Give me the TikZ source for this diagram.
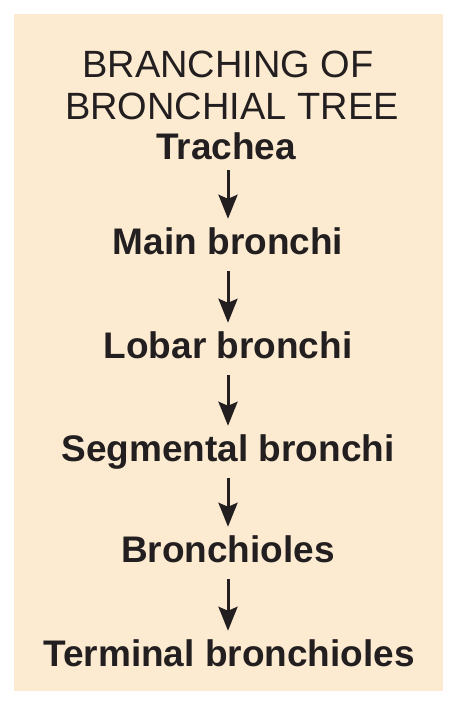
\documentclass[tikz,border=0pt]{standalone}
\usepackage{fontspec}
\setmainfont{Liberation Sans}
\usetikzlibrary{arrows.meta}
\definecolor{paper}{HTML}{FCEBD0}
\definecolor{ink}{HTML}{231F20}

\begin{document}
\begin{tikzpicture}[x=1pt, y=1pt, color=ink,
level/.style={anchor=base, inner sep=0pt, text height=27pt, text depth=0pt,
  font=\fontsize{37}{40}\selectfont\bfseries},
head/.style={anchor=base, inner sep=0pt, font=\fontsize{38}{42}\selectfont},
down/.style={-{Stealth[length=24pt, width=19pt, inset=4pt]}, line width=3pt,
  shorten <=16pt, shorten >=9pt}]

\useasboundingbox (0,0) rectangle (474,708);
\fill[paper] (14,17) rectangle (443,694);

%title
\node[head] (t1) at (228,630) {BRANCHING OF};
\node[head] (t2) at (232,588) {BRONCHIAL TREE};

%levels
\node[level] (tr) at (226,548) {Trachea};
\node[level] (mb) at (228,453) {Main bronchi};
\node[level] (lb) at (228,349) {Lobar bronchi};
\node[level] (sb) at (228,246) {Segmental bronchi};
\node[level] (br) at (228,145) {Bronchioles};
\node[level] (tb) at (229,41) {Terminal bronchioles};

%arrows
\draw[down, shorten <=10pt] (tr.south -| mb) -- (mb.north);
\draw[down] (mb.south) -- (lb.north);
\draw[down] (lb.south) -- (sb.north);
\draw[down] (sb.south) -- (br.north);
\draw[down] (br.south -| sb) -- (tb.north -| sb);
\end{tikzpicture}
\end{document}
